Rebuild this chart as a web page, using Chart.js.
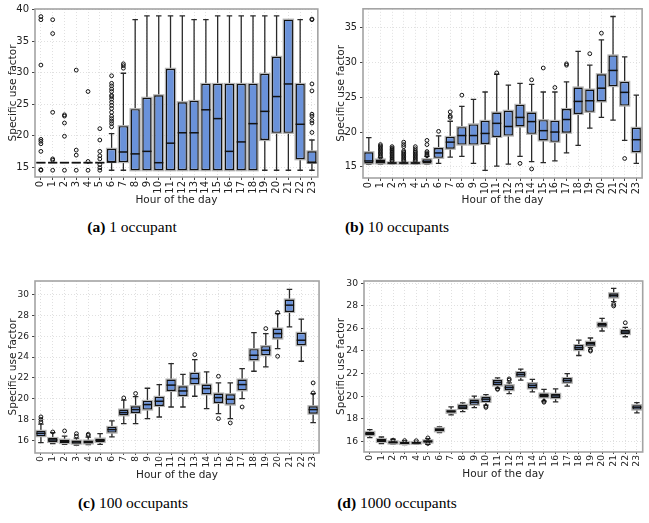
<!DOCTYPE html>
<html>
<head>
<meta charset="utf-8">
<script src="https://cdn.jsdelivr.net/npm/chart.js@4/dist/chart.umd.min.js"></script>
<style>
  body { margin:0; background:#fff; width:649px; height:523px; overflow:hidden; position:relative; }
  canvas { position:absolute; }
  .cap { position:absolute; font-family:"Liberation Serif", serif; font-size:15.5px; color:#000; transform:translate(-50%,-50%); white-space:nowrap; }
</style>
</head>
<body>
<canvas id="cA" width="325" height="210" style="left:0;top:0"></canvas>
<canvas id="cB" width="324" height="211" style="left:325px;top:0"></canvas>
<canvas id="cC" width="325" height="216" style="left:0;top:270px"></canvas>
<canvas id="cD" width="324" height="215" style="left:325px;top:270px"></canvas>
<div class="cap" style="left:132px;top:227px"><b>(a)</b> 1 occupant</div>
<div class="cap" style="left:397px;top:227px"><b>(b)</b> 10 occupants</div>
<div class="cap" style="left:133px;top:503px"><b>(c)</b> 100 occupants</div>
<div class="cap" style="left:397px;top:503px"><b>(d)</b> 1000 occupants</div>
<script>
// ── DATA ────────────────────────────────────────────────────────────────────
const HOURS = ['0','1','2','3','4','5','6','7','8','9','10','11','12','13','14','15','16','17','18','19','20','21','22','23'];

// (a) 1 occupant
const loA  = [15.7,15.7,15.7,15.7,15.7,15.7,14.5,14.5,14.5,14.5,14.5,14.5,14.5,14.5,14.5,14.5,14.5,14.5,14.5,14.5,14.5,14.5,14.5,14.5];
const q1A  = [15.7,15.7,15.7,15.7,15.7,15.7,15.8,15.8,14.5,14.5,14.5,14.5,14.5,14.5,14.5,14.5,14.5,14.5,14.5,19.3,20.45,20.45,16.25,15.7];
const medA = [15.7,15.7,15.7,15.7,15.7,15.7,15.8,17.4,17.1,17.5,15.7,18.8,20.45,20.45,24.1,22.7,17.5,19.0,21.9,23.85,26.2,28.2,21.8,15.7];
const q3A  = [15.7,15.7,15.7,15.7,15.7,15.7,17.9,21.5,24.2,26.0,26.4,30.6,25.3,25.5,28.2,28.2,28.2,28.2,28.2,29.8,32.5,38.4,28.2,17.5];
const hiA  = [15.7,15.7,15.7,15.7,15.7,15.7,20.3,29.9,38.4,39.0,39.0,39.0,39.0,38.4,38.4,39.0,39.0,39.0,39.0,39.0,39.0,38.4,38.4,19.3];
const outA = [
  [14.5,14.6,17.5,18.7,19.1,19.4,31.2,38.4,38.9],
  [14.5,16.1,16.3,23.7,36.2,38.4],
  [14.5,19.9,22.0,23.1,23.3],
  [14.5,16.9,17.7,30.4],
  [14.5,15.9,27.0],
  [14.5,14.9,15.4,16.3,16.8,17.5,19.3,21.1],
  [21.4,21.9,22.3,22.7,23.1,23.7,24.3,24.8,25.3,25.8,26.2,26.4,27.0,27.4,27.9,28.3,29.5],
  [30.7,31.1,31.4],
  [],[],[],[],[],[],[],[],[],[],[],[],[],[],[],
  [20.5,22.0,22.4,23.1,23.4,27.1,28.2,38.4,38.5]
];

// (b) 10 occupants
const loB  = [15.35,15.4,15.4,15.4,15.4,15.4,15.5,16.4,16.5,15.5,14.5,15.1,15.4,16.5,15.75,15.6,15.85,17.0,18.1,20.55,22.1,21.7,18.8,15.5];
const q1B  = [15.5,15.5,15.45,15.45,15.45,15.5,16.3,17.6,18.2,18.2,18.3,19.3,19.5,20.8,19.75,18.8,18.6,19.9,22.6,22.9,24.4,26.6,23.8,17.1];
const medB = [15.85,15.75,15.55,15.55,15.55,15.8,17.0,18.55,19.5,19.5,19.8,21.25,20.8,22.1,21.5,20.2,20.0,21.8,24.4,24.5,26.3,28.85,25.7,18.9];
const q3B  = [17.1,16.05,15.65,15.65,15.65,16.1,17.7,19.3,20.7,21.1,21.6,22.8,23.05,23.9,22.8,21.7,21.6,23.3,26.4,26.1,28.3,31.0,27.2,20.6];
const hiB  = [19.2,16.3,15.8,15.8,15.8,16.5,19.45,21.55,23.7,24.7,25.75,28.3,26.75,27.0,26.85,25.75,25.75,27.2,31.6,29.6,33.25,36.6,30.8,25.3];
const outB = [
  [],
  [16.4,16.6,16.8,17.0,17.2,17.4,17.6,17.8,18.0,18.2],
  [15.9,16.1,16.3,16.5,16.7,16.9,17.1,17.3,17.5,17.7,17.9],
  [15.9,16.1,16.3,16.5,16.7,16.9,17.1,17.3,17.9,18.2,18.55],
  [15.9,16.1,16.3,16.5,16.7,16.9,17.1,17.3,17.6,17.9],
  [16.6,16.8,17.0,17.2,18.2,18.8],
  [20.1],
  [22.1,22.3,22.9],
  [25.3],
  [],[],
  [28.5],
  [],
  [15.5],
  [14.7,27.5],
  [29.2],
  [26.4],
  [29.6,29.8],
  [],
  [31.25],
  [34.2],
  [],
  [16.2],
  []
];

// (c) 100 occupants
const loC  = [15.78,15.68,15.6,15.55,15.58,15.6,16.32,17.6,17.6,18.08,18.24,19.2,19.2,20.23,19.04,18.56,18.08,20.0,22.63,23.05,24.81,26.9,23.59,17.7];
const q1C  = [16.4,15.84,15.74,15.68,15.7,15.84,16.74,18.4,18.63,18.95,19.3,20.74,20.26,21.38,20.42,19.59,19.43,20.8,23.69,24.17,25.77,28.33,25.13,18.56];
const medC = [16.67,16.03,15.9,15.84,15.84,16.0,17.03,18.66,18.95,19.43,19.75,21.3,20.74,21.93,20.97,20.1,19.94,21.35,24.17,24.65,26.25,28.98,25.61,18.95];
const q3C  = [16.9,16.22,16.06,15.97,15.97,16.16,17.28,18.95,19.27,19.78,20.17,21.83,21.19,22.47,21.35,20.49,20.42,21.83,24.75,25.04,26.73,29.52,26.32,19.27];
const hiC  = [17.55,16.74,16.4,16.2,16.3,16.64,17.86,19.85,20.2,21.0,21.35,23.37,22.34,23.75,22.57,21.51,21.51,22.89,26.35,26.25,28.17,30.5,27.63,20.49];
const outC = [
  [17.76,18.0,18.25],[16.8],[16.9],[16.4,16.64],[16.48,16.58],[],[],
  [20.07],[20.5],[],[],[],[],[24.23],[],[18.08,22.15],[17.67],[19.2],[],
  [26.73],[24.07,28.27],[],[],[20.55,21.51]
];

// (d) 1000 occupants
const loD  = [16.33,15.8,15.75,15.7,15.72,15.73,16.77,18.34,18.63,18.99,19.2,20.7,20.23,21.42,20.38,19.55,19.49,20.88,23.6,24.3,25.77,28.37,25.26,18.52];
const q1D  = [16.53,15.94,15.8,15.76,15.78,15.88,16.89,18.52,18.87,19.23,19.49,20.94,20.53,21.71,20.68,19.88,19.82,21.18,24.08,24.46,26.15,28.73,25.5,18.81];
const medD = [16.67,16.07,15.9,15.85,15.85,16.0,17.04,18.66,19.03,19.46,19.73,21.2,20.76,21.92,20.94,20.05,20.02,21.39,24.29,24.64,26.33,28.93,25.68,19.02];
const q3D  = [16.83,16.2,16.0,15.94,15.93,16.09,17.15,18.75,19.23,19.7,19.94,21.42,20.97,22.13,21.15,20.23,20.2,21.6,24.52,24.82,26.5,29.11,25.86,19.2];
const hiD  = [17.04,16.38,16.18,16.05,16.02,16.24,17.27,19.05,19.4,20.0,20.14,21.62,21.18,22.39,21.48,20.59,20.65,22.0,24.97,25.15,26.89,29.55,26.09,19.43];
const outD = [
  [],[],[16.1],[16.06],[16.05],[15.8,16.3],[],[],[],[],
  [19.0,19.1],[20.6,20.65],[21.42,21.53],[],[],[19.46,19.55],[],[],[],
  [23.99,24.08],[],[27.99,28.13],[26.5],[]
];

// ── STYLE ───────────────────────────────────────────────────────────────────
const BOX_FILL = '#6a92da';
const INK = '#111';
const FONT = 'DejaVu Sans';

// whiskers + halo behind boxes, medians + frame on top
const boxPlugin = {
  id: 'boxes',
  beforeDatasetsDraw(chart) {
    const ds = chart.data.datasets[0];
    const meta = chart.getDatasetMeta(0);
    const y = chart.scales.y;
    const ctx = chart.ctx;
    const a = chart.chartArea;
    ctx.save();
    ctx.beginPath(); ctx.rect(a.left, a.top, a.right - a.left, a.bottom - a.top); ctx.clip();
    meta.data.forEach((bar, i) => {
      const x = bar.x, w = bar.width, cw = w * 0.6;
      const yLo = y.getPixelForValue(ds.lo[i]), yHi = y.getPixelForValue(ds.hi[i]);
      const yQ1 = y.getPixelForValue(ds.data[i][0]), yQ3 = y.getPixelForValue(ds.data[i][1]);
      ctx.strokeStyle = '#2a2a2a'; ctx.lineWidth = 1.3;
      ctx.beginPath();
      ctx.moveTo(x, yLo); ctx.lineTo(x, yQ1);
      ctx.moveTo(x, yQ3); ctx.lineTo(x, yHi);
      ctx.moveTo(x - cw/2, yLo); ctx.lineTo(x + cw/2, yLo);
      ctx.moveTo(x - cw/2, yHi); ctx.lineTo(x + cw/2, yHi);
      ctx.stroke();
      ctx.strokeStyle = '#b4b4b4'; ctx.lineWidth = 2.2;
      ctx.strokeRect(x - w/2, yQ3, w, yQ1 - yQ3);
    });
    ctx.restore();
  },
  afterDatasetsDraw(chart) {
    const ds = chart.data.datasets[0];
    const meta = chart.getDatasetMeta(0);
    const y = chart.scales.y;
    const ctx = chart.ctx;
    const a = chart.chartArea;
    ctx.save();
    ctx.strokeStyle = INK; ctx.lineWidth = 1.5;
    meta.data.forEach((bar, i) => {
      const ym = y.getPixelForValue(ds.med[i]);
      ctx.beginPath();
      ctx.moveTo(bar.x - bar.width/2, ym); ctx.lineTo(bar.x + bar.width/2, ym);
      ctx.stroke();
    });
    ctx.strokeStyle = '#a3a3a3'; ctx.lineWidth = 1.6;
    ctx.strokeRect(a.left, a.top, a.right - a.left, a.bottom - a.top);
    ctx.restore();
  }
};

function makePanel(id, q1, med, q3, lo, hi, out, yMin, yMax, step, yWidth, padTop, yTitlePad, xTitlePad, padRight, tickSize, xTickLen) {
  const pts = [];
  out.forEach((vals, i) => vals.forEach(v => pts.push({ x: HOURS[i], y: v })));
  return new Chart(document.getElementById(id), {
    type: 'bar',
    data: {
      labels: HOURS,
      datasets: [
        { data: q1.map((v, i) => [v, q3[i]]), lo, hi, med,
          backgroundColor: BOX_FILL, borderColor: INK, borderWidth: 1.4, borderSkipped: false,
          barPercentage: 0.78, categoryPercentage: 1, grouped: false, order: 1 },
        { type: 'line', data: pts, showLine: false, order: 0,
          pointRadius: 1.9, pointBorderWidth: 1, pointBorderColor: INK,
          pointBackgroundColor: 'rgba(255,255,255,0)', pointHoverRadius: 0 }
      ]
    },
    options: {
      responsive: false, animation: false,
      layout: { padding: { top: padTop, right: padRight, left: 0, bottom: 0 } },
      plugins: { legend: { display: false }, tooltip: { enabled: false } },
      scales: {
        x: {
          afterFit: s => { s.height = 33; },
          grid: { offset: false, color: '#e0e0e0', tickColor: '#444', tickLength: xTickLen },
          border: { display: false, dash: [1, 2] },
          ticks: { autoSkip: false, minRotation: 90, maxRotation: 90, padding: 1, color: '#222', font: { family: FONT, size: tickSize } },
          title: { display: true, text: 'Hour of the day', color: '#222', padding: { top: 0, bottom: xTitlePad }, font: { family: FONT, size: 10.5 } }
        },
        y: {
          min: yMin, max: yMax,
          afterFit: s => { s.width = yWidth; },
          grid: { color: '#e0e0e0', tickColor: '#444', tickLength: 3 },
          border: { display: false, dash: [1, 2] },
          ticks: { stepSize: step, includeBounds: false, padding: 3, color: '#222', font: { family: FONT, size: tickSize } },
          title: { display: true, text: 'Specific use factor', color: '#222', padding: { top: yTitlePad, bottom: 0 }, font: { family: FONT, size: 10.5 } }
        }
      }
    },
    plugins: [boxPlugin]
  });
}

makePanel('cA', q1A, medA, q3A, loA, hiA, outA, 13.43, 40.1, 5, 35, 7, 7, 3, 2, 10, 3);
makePanel('cB', q1B, medB, q3B, loB, hiB, outB, 13.4, 37.7, 5, 38, 7, 10, 4, 0, 9.7, 3);
makePanel('cC', q1C, medC, q3C, loC, hiC, outC, 14.78, 31.3, 2, 35, 11, 7, 4, 2, 9, 2);
makePanel('cD', q1D, medD, q3D, loD, hiD, outD, 15.05, 30.2, 2, 39, 11, 10, 4, 0, 9.2, 2);
</script>
</body>
</html>
